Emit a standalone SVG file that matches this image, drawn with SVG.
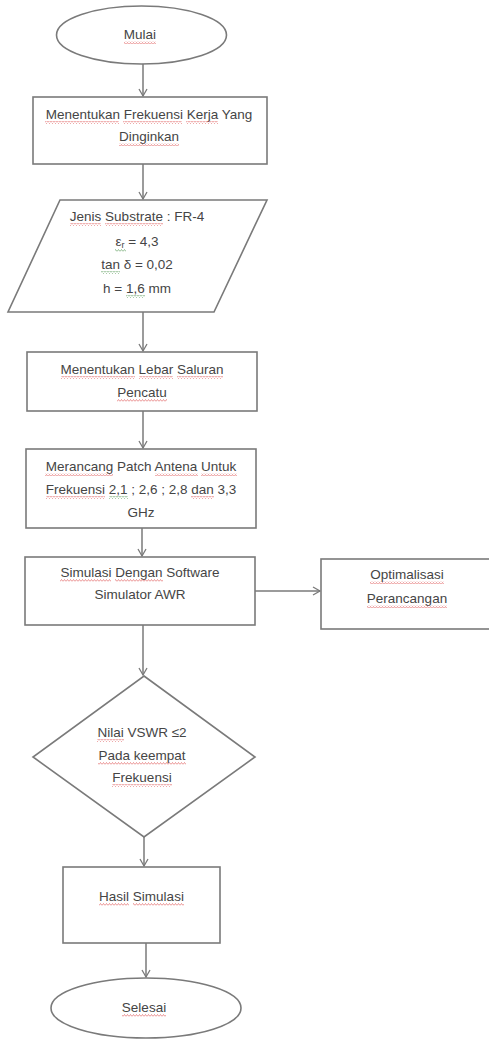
<svg xmlns="http://www.w3.org/2000/svg" width="489" height="1041" viewBox="0 0 489 1041">
<style>
.s{fill:#fff;stroke:#7a7a7a;stroke-width:1.6}
.c{fill:none;stroke:#7a7a7a;stroke-width:1.5}
text{font-family:"Liberation Sans","DejaVu Sans",sans-serif;font-size:13.5px;fill:#454545;text-anchor:middle}
.r{fill:url(#sqr)}
.g{fill:url(#sqg)}
</style>
<defs>
<pattern id="sqr" width="3" height="3" patternUnits="userSpaceOnUse">
<path d="M0 2.5 L1.5 0.5 L3 2.5" fill="none" stroke="#e26a6a" stroke-width="0.7"/>
</pattern>
<pattern id="sqg" width="3" height="3" patternUnits="userSpaceOnUse">
<path d="M0 2.5 L1.5 0.5 L3 2.5" fill="none" stroke="#6aa56a" stroke-width="0.7"/>
</pattern>
<marker id="ah" markerWidth="10" markerHeight="10" refX="8" refY="5" orient="auto" markerUnits="userSpaceOnUse">
<path d="M1 1 L8 5 L1 9" fill="none" stroke="#7a7a7a" stroke-width="1.3"/>
</marker>
</defs>
<rect width="489" height="1041" fill="#fff"/>
<g id="connectors">
<line class="c" x1="143" y1="64" x2="143" y2="96" marker-end="url(#ah)"/>
<line class="c" x1="143" y1="164" x2="143" y2="199" marker-end="url(#ah)"/>
<line class="c" x1="143" y1="312" x2="143" y2="351" marker-end="url(#ah)"/>
<line class="c" x1="143" y1="411" x2="143" y2="448" marker-end="url(#ah)"/>
<line class="c" x1="142" y1="528" x2="142" y2="556" marker-end="url(#ah)"/>
<line class="c" x1="255" y1="591" x2="320" y2="591" marker-end="url(#ah)"/>
<line class="c" x1="143" y1="625" x2="143" y2="675" marker-end="url(#ah)"/>
<line class="c" x1="144" y1="837" x2="144" y2="866" marker-end="url(#ah)"/>
<line class="c" x1="146" y1="943" x2="146" y2="977" marker-end="url(#ah)"/>
</g>
<g id="mulai">
<ellipse class="s" cx="141.5" cy="35" rx="85" ry="29"/>
<text x="140" y="39">Mulai</text>
<rect class="r" x="124" y="41" width="32" height="3"/>
</g>
<g id="frekuensi-kerja">
<rect class="s" x="33" y="97" width="234" height="67"/>
<text x="149" y="119">Menentukan Frekuensi Kerja Yang</text>
<text x="149" y="141">Dinginkan</text>
<rect class="r" x="45" y="121" width="74" height="3"/>
<rect class="r" x="123" y="121" width="59" height="3"/>
<rect class="r" x="186" y="121" width="32" height="3"/>
<rect class="r" x="119" y="143" width="60" height="3"/>
</g>
<g id="substrate">
<polygon class="s" points="60,200 267,200 214,312 8,312"/>
<text x="137" y="221">Jenis Substrate : FR-4</text>
<text x="137" y="246">ε<tspan font-size="9" dy="2">r</tspan><tspan dy="-2"> = 4,3</tspan></text>
<text x="137" y="269">tan δ = 0,02</text>
<text x="137" y="293">h = 1,6 mm</text>
<rect class="r" x="70" y="223" width="31" height="3"/>
<rect class="r" x="105" y="223" width="58" height="3"/>
<rect class="g" x="115" y="249" width="11" height="3"/>
<rect class="g" x="101" y="271" width="19" height="3"/>
<rect class="g" x="126" y="295" width="19" height="3"/>
</g>
<g id="lebar-saluran">
<rect class="s" x="27" y="352" width="230" height="59"/>
<text x="142" y="374">Menentukan Lebar Saluran</text>
<text x="142" y="397">Pencatu</text>
<rect class="r" x="61" y="376" width="74" height="3"/>
<rect class="r" x="139" y="376" width="34" height="3"/>
<rect class="r" x="177" y="376" width="46" height="3"/>
<rect class="r" x="117" y="399" width="50" height="3"/>
</g>
<g id="patch">
<rect class="s" x="26" y="449" width="230" height="79"/>
<text x="141" y="471">Merancang Patch Antena Untuk</text>
<text x="141" y="494">Frekuensi 2,1 ; 2,6 ; 2,8 dan 3,3</text>
<text x="141" y="517">GHz</text>
<rect class="r" x="45" y="473" width="68" height="3"/>
<rect class="r" x="155" y="473" width="43" height="3"/>
<rect class="r" x="201" y="473" width="36" height="3"/>
<rect class="r" x="46" y="496" width="59" height="3"/>
<rect class="g" x="109" y="496" width="19" height="3"/>
<rect class="r" x="191" y="496" width="23" height="3"/>
</g>
<g id="simulasi">
<rect class="s" x="25" y="557" width="230" height="68"/>
<text x="140" y="577">Simulasi Dengan Software</text>
<text x="140" y="599">Simulator AWR</text>
<rect class="r" x="60" y="579" width="51" height="3"/>
<rect class="r" x="115" y="579" width="48" height="3"/>
</g>
<g id="optimalisasi">
<rect class="s" x="321" y="559" width="172" height="70"/>
<text x="407" y="579">Optimalisasi</text>
<text x="407" y="603">Perancangan</text>
<rect class="r" x="370" y="581" width="74" height="3"/>
<rect class="r" x="367" y="605" width="80" height="3"/>
</g>
<g id="vswr">
<polygon class="s" points="144,676 255,757 144,837 33,757"/>
<text x="142" y="737">Nilai VSWR ≤2</text>
<text x="142" y="760">Pada keempat</text>
<text x="142" y="782">Frekuensi</text>
<rect class="r" x="97" y="739" width="27" height="3"/>
<rect class="r" x="98" y="762" width="88" height="3"/>
<rect class="r" x="112" y="784" width="60" height="3"/>
</g>
<g id="hasil">
<rect class="s" x="63" y="867" width="157" height="76"/>
<text x="141.5" y="901">Hasil Simulasi</text>
<rect class="r" x="99" y="903" width="30" height="3"/>
<rect class="r" x="133" y="903" width="51" height="3"/>
</g>
<g id="selesai">
<ellipse class="s" cx="146" cy="1008" rx="95" ry="30"/>
<text x="144" y="1012">Selesai</text>
<rect class="r" x="122" y="1014" width="44" height="3"/>
</g>
</svg>
